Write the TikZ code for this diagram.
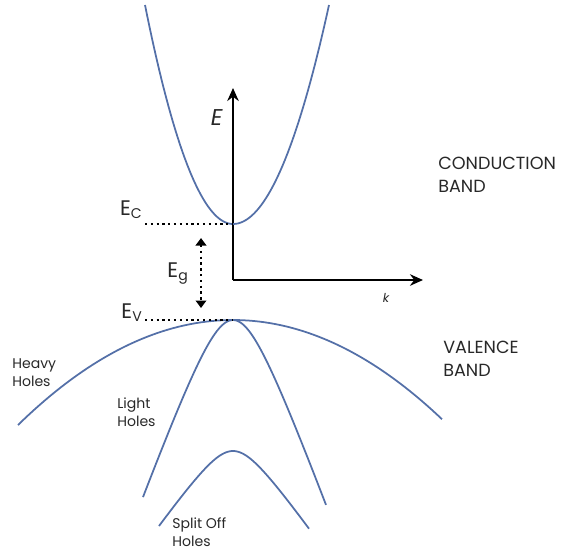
\documentclass[tikz,border=0pt]{standalone}
\usepackage{fontspec}
\setmainfont{Poppins}
\usetikzlibrary{arrows.meta,positioning}
\definecolor{bandblue}{RGB}{84,112,168}
\definecolor{labelgrey}{RGB}{40,40,40}

\begin{document}
\begin{tikzpicture}[x=0.02cm, y=-0.02cm,
    band/.style={draw=bandblue, line width=1pt},
    axis/.style={line width=1.4pt, -{Stealth[length=2.6mm, width=2.3mm]}},
    level/.style={dotted, line width=1.3pt},
    bandname/.style={font=\fontsize{10}{13}\selectfont, align=left, inner sep=0pt, anchor=north west, text=labelgrey},
    holename/.style={font=\fontsize{8}{10.5}\selectfont, align=left, inner sep=0pt, anchor=north west, text=labelgrey},
    energy/.style={font=\fontsize{12}{14}\selectfont, inner sep=0pt, anchor=base east, text=labelgrey}]
  \useasboundingbox (0,0) rectangle (567,552);

  % axes
  \coordinate (origin) at (233,280);
  \coordinate (etip) at (233,88);
  \coordinate (ktip) at (423,280);
  \draw[axis] (origin) -- (etip);
  \draw[axis] (origin) -- (ktip);
  \node[font=\fontsize{13}{15}\selectfont\itshape, inner sep=0pt, anchor=base east, text=labelgrey] (elabel) at (223,125) {E};
  \node[font=\fontsize{7}{9}\selectfont\itshape, inner sep=0pt, anchor=base, text=labelgrey] (klabel) at (386,302) {k};

  % band edges
  \coordinate (cbmin) at (233,224);
  \coordinate (vbmax) at (233,320);

  % conduction band
  \draw[band] plot[domain=-88:96, samples=80] ({233+\x},{224-219*(\x/(\x<0?88:96))^2});
  % heavy, light and split off holes
  \draw[band] plot[domain=-215:209, samples=80] ({233+\x},{320+105*(\x/215)^2});
  \draw[band] plot[domain=-90:93, samples=80] ({233+\x},{320+81.9*(sqrt(1+(\x/30)^2)-1)});
  \draw[band] plot[domain=-74:76, samples=80] ({233+\x},{451+35.3*(sqrt(1+(\x/25)^2)-1)});

  % levels and gap
  \coordinate (ecstart) at (145,224);
  \coordinate (evstart) at (145,320);
  \draw[level] (ecstart) -- (cbmin);
  \draw[level] (evstart) -- (vbmax);
  \coordinate (gaptop) at (201,238);
  \coordinate (gapbot) at (201,308);
  \draw[level, {Triangle[length=1.5mm, width=2.1mm]}-{Triangle[length=1.5mm, width=2.1mm]}] (gaptop) -- (gapbot);

  \node[energy] (ec) at (143,215) {E\textsubscript{C}};
  \node[energy] (eg) at (189,277) {E\textsubscript{g}};
  \node[energy] (ev) at (143,318) {E\textsubscript{V}};

  % labels
  \node[bandname] (cband) at (438,157) {CONDUCTION\\BAND};
  \node[bandname] (vband) at (443,341) {VALENCE\\BAND};
  \node[holename] (heavy) at (12,358) {Heavy\\Holes};
  \node[holename] (light) at (117,397) {Light\\Holes};
  \node[holename] (split) at (172,517) {Split Off\\Holes};
\end{tikzpicture}
\end{document}
